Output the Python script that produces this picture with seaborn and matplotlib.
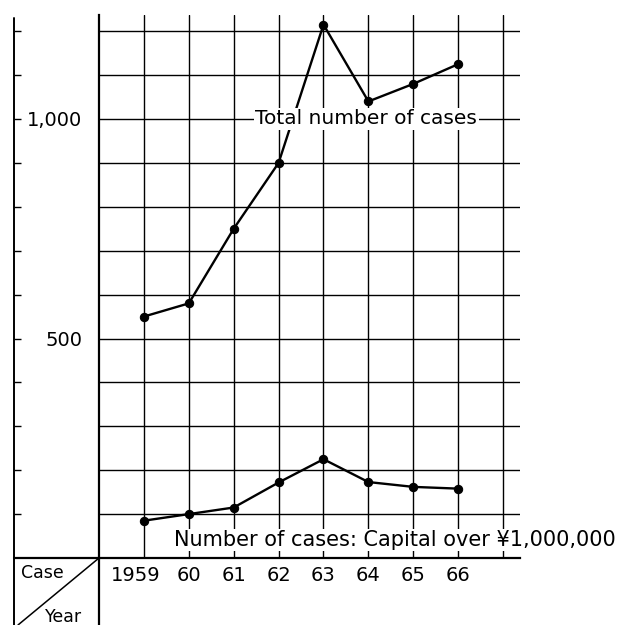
import matplotlib
matplotlib.use("Agg")
import pandas as pd
import matplotlib.pyplot as plt
import matplotlib.transforms as mtransforms
import seaborn as sns
from matplotlib.lines import Line2D

# data
years = [1959, 1960, 1961, 1962, 1963, 1964, 1965, 1966]
year_labels = ["1959", "60", "61", "62", "63", "64", "65", "66"]
total_cases = [550, 580, 750, 900, 1215, 1040, 1080, 1125]
capital_cases = [85, 100, 115, 172, 225, 173, 162, 158]

total_df = pd.DataFrame({"year": years, "cases": total_cases})
capital_df = pd.DataFrame({"year": years, "cases": capital_cases})

sns.set_theme(style="white")
plt.rcParams["font.family"] = ["DejaVu Sans"]
plt.rcParams["text.color"] = "black"

W, H = 626, 625
fig = plt.figure(figsize=(W / 100, H / 100), dpi=100)


def fx(x, y):
    # pixel position -> figure fraction
    return x / W, 1 - y / H


ax = fig.add_axes([99 / W, 1 - 558 / H, 421 / W, 543 / H])

for d in (total_df, capital_df):
    sns.lineplot(data=d, x="year", y="cases", ax=ax, color="black", lw=1.7,
                 marker="o", markersize=6, markeredgecolor="black", zorder=3)

ax.set_xlim(1958, 1958 + 421 / 44.9)
ax.set_ylim(0, 543 / 0.439)
ax.set_xticks(years + [1967])
ax.set_xticklabels(year_labels + [""])
yt = list(range(100, 1300, 100))
ax.set_yticks(yt)
ax.set_yticklabels(["1,000" if v == 1000 else "500" if v == 500 else "" for v in yt])
ax.grid(True, color="black", lw=1.0)
ax.tick_params(length=0, labelsize=14, colors="black")
ax.tick_params(axis="x", pad=6)
ax.tick_params(axis="y", pad=12)
ax.set_xlabel("")
ax.set_ylabel("")
for s in ("top", "right"):
    ax.spines[s].set_visible(False)
for s in ("left", "bottom"):
    ax.spines[s].set_color("black")
    ax.spines[s].set_linewidth(1.6)

# the first year label sits a little left of its line in the original
lab = ax.get_xticklabels()[0]
lab.set_transform(lab.get_transform() +
                  mtransforms.ScaledTranslation(-8 / 100, 0, fig.dpi_scale_trans))

# tick marks on the outer left border
sec = ax.secondary_yaxis((14 - 99) / 421)
sec.set_yticks(yt)
sec.tick_params(direction="in", length=5, width=1, labelleft=False, colors="black")
sec.spines["left"].set_visible(False)

ax.text(1963.95, 1000, "Total number of cases", ha="center", va="center",
        fontsize=14.5, zorder=4,
        bbox=dict(facecolor="white", edgecolor="none", pad=1))
ax.text(1959.67, 41, "Number of cases: Capital over ¥1,000,000", ha="left",
        va="center", fontsize=15, clip_on=False, zorder=4,
        bbox=dict(facecolor="white", edgecolor="none", pad=1))

# frame lines of the table corner
for (x0, y0), (x1, y1), lw in [((14, 18), (14, 625), 1.4),
                               ((14, 558), (99, 558), 1.6),
                               ((99, 558), (99, 625), 1.6),
                               ((99, 558), (18, 625), 1.1)]:
    a, b = fx(x0, y0)
    c, d = fx(x1, y1)
    fig.add_artist(Line2D([a, c], [b, d], color="black", lw=lw,
                          transform=fig.transFigure))

fig.text(*fx(42, 573), "Case", ha="center", va="center", fontsize=12.5)
fig.text(*fx(64, 617), "Year", ha="center", va="center", fontsize=12.5)

fig.savefig("out.png", dpi=100)
